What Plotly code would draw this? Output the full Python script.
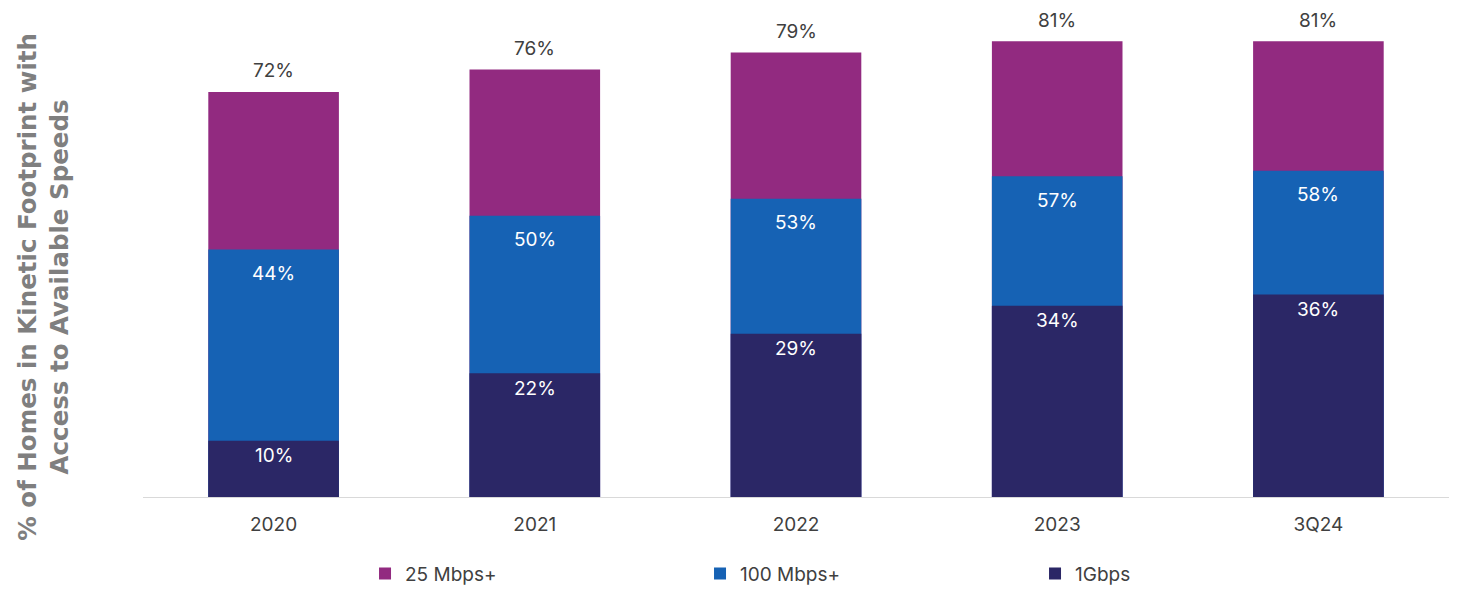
import plotly.graph_objects as go

categories = ["2020", "2021", "2022", "2023", "3Q24"]
mbps25 = [72, 76, 79, 81, 81]
mbps100 = [44, 50, 53, 57, 58]
gbps1 = [10, 22, 29, 34, 36]

C25 = "#922A80"
C100 = "#1662B4"
C1G = "#2B2766"
FONT = "Inter"

fig = go.Figure()
fig.add_bar(x=categories, y=mbps25, name="25 Mbps+", marker=dict(color=C25, line=dict(width=0)), width=0.5)
fig.add_bar(x=categories, y=mbps100, name="100 Mbps+", marker=dict(color=C100, line=dict(width=0)), width=0.5)
fig.add_bar(x=categories, y=gbps1, name="1Gbps", marker=dict(color=C1G, line=dict(width=0)), width=0.5)

annotations = []
for i, v in enumerate(mbps25):
    annotations.append(dict(x=i, y=v, text=f"{v}%", showarrow=False, yshift=21,
                            font=dict(color="#404040", size=19, family=FONT)))
for i, v in enumerate(mbps100):
    annotations.append(dict(x=i, y=v, text=f"{v}%", showarrow=False, yshift=-24,
                            font=dict(color="white", size=19, family=FONT)))
for i, v in enumerate(gbps1):
    annotations.append(dict(x=i, y=v, text=f"{v}%", showarrow=False, yshift=-15,
                            font=dict(color="white", size=19, family=FONT)))
annotations.append(dict(xref="paper", yref="paper", x=-0.0758, y=0.43, xanchor="center", yanchor="middle",
                        text="% of Homes in Kinetic Footprint with<br>Access to Available Speeds",
                        textangle=-90, showarrow=False,
                        font=dict(color="#7F7F7F", size=24.5, family="DejaVu Sans", weight="bold")))

fig.update_layout(
    barmode="overlay",
    width=1455, height=587,
    margin=dict(l=135, r=14, t=0, b=98),
    plot_bgcolor="white", paper_bgcolor="white",
    font=dict(family=FONT, color="#404040", size=19),
    xaxis=dict(type="category", range=[-0.5, 4.5], showline=True, linecolor="#D9D9D9", linewidth=1,
               ticks="", showgrid=False, tickfont=dict(size=19, color="#404040"), ticklabelstandoff=10),
    yaxis=dict(range=[0, 86.93], visible=False, showgrid=False),
    legend=dict(orientation="h", x=0.17, xanchor="left", y=-0.157, yanchor="middle",
                font=dict(size=19, color="#404040"), entrywidth=290, traceorder="normal"),
    annotations=annotations,
    showlegend=True,
)

fig.write_html("out.html")
